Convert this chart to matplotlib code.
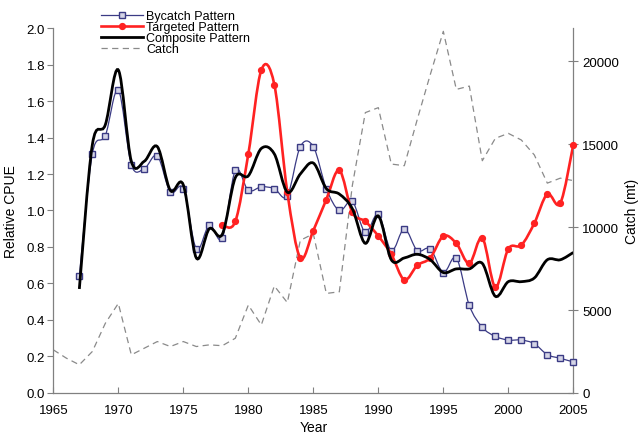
import numpy as np
import matplotlib
matplotlib.use("Agg")
import matplotlib.pyplot as plt
from matplotlib.path import Path
from matplotlib.patches import PathPatch
from matplotlib.lines import Line2D

plt.rcParams['font.family'] = ['Liberation Sans', 'DejaVu Sans']

# relative CPUE series (left axis)
by_years = list(range(1967, 2006))
bycatch = [0.64, 1.31, 1.41, 1.66, 1.25, 1.23, 1.30, 1.10, 1.12, 0.79,
           0.92, 0.85, 1.22, 1.11, 1.13, 1.12, 1.08, 1.35, 1.35, 1.12,
           1.00, 1.05, 0.88, 0.98, 0.78, 0.90, 0.78, 0.79, 0.66, 0.74,
           0.48, 0.36, 0.31, 0.29, 0.29, 0.27, 0.21, 0.19, 0.17]

tg_years = list(range(1978, 2006))
targeted = [0.92, 0.94, 1.31, 1.77, 1.69, 1.10, 0.74, 0.89, 1.06, 1.22,
            0.99, 0.94, 0.86, 0.76, 0.62, 0.70, 0.74, 0.86, 0.82, 0.71,
            0.85, 0.58, 0.79, 0.81, 0.93, 1.09, 1.04, 1.36]

composite = [0.57, 1.36, 1.47, 1.77, 1.27, 1.27, 1.35, 1.11, 1.14, 0.74,
             0.90, 0.87, 1.18, 1.19, 1.34, 1.31, 1.10, 1.20, 1.26, 1.12,
             1.09, 1.01, 0.82, 0.97, 0.73, 0.74, 0.76, 0.73, 0.66, 0.68,
             0.68, 0.71, 0.53, 0.61, 0.61, 0.63, 0.73, 0.73, 0.77]

# catch in mt (right axis)
catch_years = list(range(1965, 2006))
catch = [2600, 2100, 1700, 2500, 4200, 5400, 2300, 2700, 3100, 2800,
         3100, 2800, 2900, 2850, 3300, 5300, 4100, 6450, 5450, 9200,
         9600, 6000, 6100, 12500, 16900, 17200, 13800, 13700, 16500, 19200,
         21800, 18300, 18500, 14000, 15350, 15650, 15250, 14350, 12650, 12950,
         12800]


def smooth_path(x, y):
    # bezier segments like a spreadsheet "smoothed line"
    x = np.asarray(x, float)
    y = np.asarray(y, float)
    n = len(x)
    verts = [(x[0], y[0])]
    codes = [Path.MOVETO]
    for i in range(n - 1):
        a = max(i - 1, 0)
        d = min(i + 2, n - 1)
        c1 = (x[i] + (x[i + 1] - x[a]) / 6, y[i] + (y[i + 1] - y[a]) / 6)
        c2 = (x[i + 1] - (x[d] - x[i]) / 6, y[i + 1] - (y[d] - y[i]) / 6)
        verts += [c1, c2, (x[i + 1], y[i + 1])]
        codes += [Path.CURVE4] * 3
    return Path(verts, codes)


navy = '#3b3b85'
red = '#ff2222'
grey = '#8a8a8a'
spine_c = '#808080'

fig = plt.figure(figsize=(6.41, 4.35), dpi=100)
ax = fig.add_axes([0.0832, 0.0943, 0.8112, 0.839])
ax2 = ax.twinx()

# catch behind the CPUE lines
ax2.plot(catch_years, catch, color=grey, lw=0.9, ls=(0, (5, 3.5)))
ax.set_zorder(ax2.get_zorder() + 1)
ax.patch.set_visible(False)

ax.add_patch(PathPatch(smooth_path(by_years, bycatch), fill=False,
                       edgecolor=navy, lw=0.9, zorder=2))
ax.plot(by_years, bycatch, ls='none', marker='s', ms=4.3, mfc='#d4d4e6',
        mec=navy, mew=1.0, zorder=3, clip_on=False)

ax.add_patch(PathPatch(smooth_path(tg_years, targeted), fill=False,
                       edgecolor=red, lw=1.9, zorder=4))
ax.plot(tg_years, targeted, ls='none', marker='o', ms=4.2, mfc=red,
        mec=red, zorder=5, clip_on=False)

ax.add_patch(PathPatch(smooth_path(by_years, composite), fill=False,
                       edgecolor='black', lw=2.0, zorder=6))

ax.set_xlim(1965, 2005)
ax.set_ylim(0, 2.0)
ax2.set_ylim(0, 22000)
ax.set_xticks(range(1965, 2006, 5))
ax.set_yticks(np.arange(0, 2.01, 0.2))
ax.set_yticklabels([f'{v:.1f}' for v in np.arange(0, 2.01, 0.2)])
ax2.set_yticks(range(0, 20001, 5000))

for a in (ax, ax2):
    a.spines['top'].set_visible(False)
    for s in a.spines.values():
        s.set_color(spine_c)
        s.set_linewidth(0.9)
ax.spines['right'].set_visible(False)
ax2.spines['left'].set_visible(False)
ax2.spines['bottom'].set_visible(False)

ax.tick_params(axis='x', direction='in', length=4, color=spine_c,
               labelsize=9.5, pad=8)
ax.tick_params(axis='y', direction='out', length=4, color=spine_c,
               labelsize=9.5, pad=2)
ax2.tick_params(axis='y', direction='inout', length=7, color=spine_c,
                labelsize=9.5, pad=3)

ax.set_xlabel('Year', fontsize=10, labelpad=3)
ax.set_ylabel('Relative CPUE', fontsize=10, labelpad=6)
ax2.set_ylabel('Catch (mt)', fontsize=10, labelpad=4)

handles = [
    Line2D([], [], color=navy, lw=0.9, marker='s', ms=4.3, mfc='#d4d4e6',
           mec=navy),
    Line2D([], [], color=red, lw=1.9, marker='o', ms=4.2, mfc=red, mec=red),
    Line2D([], [], color='black', lw=2.0),
    Line2D([], [], color=grey, lw=0.9, ls=(0, (5, 3.5))),
]
labels = ['Bycatch Pattern', 'Targeted Pattern', 'Composite Pattern', 'Catch']
fig.legend(handles, labels, loc='upper left', bbox_to_anchor=(0.158, 0.974),
           frameon=False, fontsize=9, handlelength=3.3, handletextpad=0.3,
           labelspacing=-0.08, borderpad=0, borderaxespad=0)

fig.savefig('out.png', dpi=100)
